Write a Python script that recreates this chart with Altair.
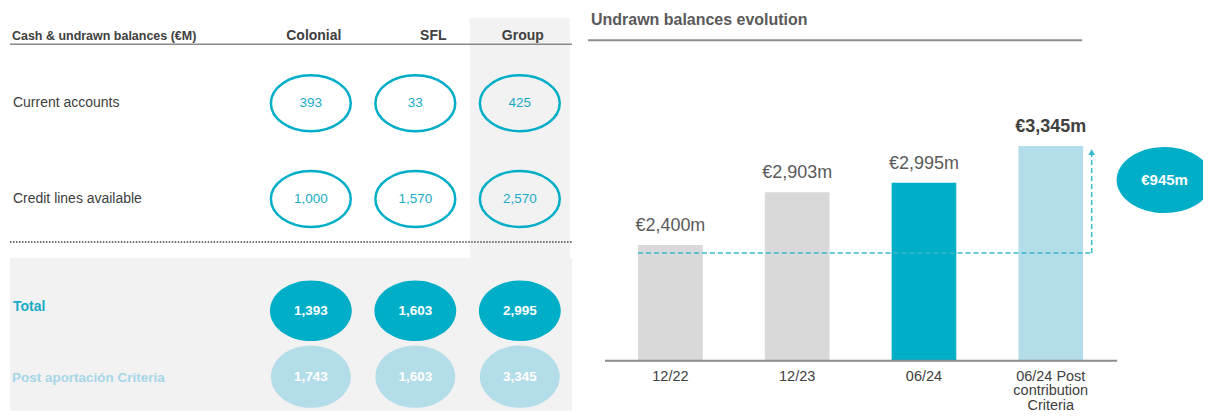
import altair as alt
import pandas as pd

# ---------------- data ----------------
columns = ["Colonial", "SFL", "Group"]
rows_top = ["Current accounts", "Credit lines available"]
rows_bottom = ["Total", "Post aportación Criteria"]
current_accounts = [393, 33, 425]
credit_lines = [1000, 1570, 2570]
totals = [1393, 1603, 2995]
post_criteria = [1743, 1603, 3345]
table_title = "Cash & undrawn balances (€M)"

chart_title = "Undrawn balances evolution"
periods = ["12/22", "12/23", "06/24", "06/24 Post contribution Criteria"]
period_labels = ["12/22", "12/23", "06/24", "06/24 Post|contribution|Criteria"]
undrawn = [2400, 2903, 2995, 3345]
bar_labels = ["€2,400m", "€2,903m", "€2,995m", "€3,345m"]
bar_kind = ["past", "past", "current", "post"]
increase_label = "€945m"
base_value = 2400
post_value = 3345
axis_min = 1293

# ---------------- styles ----------------
TEAL = "#00AEC7"
TEAL_TXT = "#1AABC6"
LIGHT = "#B4DDEA"
LIGHT_TXT = "#A6D6E7"
BAR_GRAY = "#D9D9D9"
BG = "#F2F2F2"
TXT = "#404040"
TXT2 = "#5A5A5A"
FONT = "Liberation Sans"


def ellipse(ratio):
    return f"M-1,0A1,{ratio},0,1,1,1,0A1,{ratio},0,1,1,-1,0Z"


W_LEFT = 565
H_TOP = 250
H_BOT = 153
W_RIGHT = 616
H_RIGHT = H_TOP + H_BOT

one = pd.DataFrame({"k": [0]})

# ---------------- left top section ----------------
x_left_scale = alt.Scale(type="band", domain=columns, range=[251, W_LEFT], paddingInner=0.04, paddingOuter=0.02)
x_left = alt.X("col:N", scale=x_left_scale, axis=None)
y_top = alt.Y("row:N", scale=alt.Scale(type="point", domain=rows_top, range=[47, 239], padding=0.5),
              axis=None)

top_df = pd.DataFrame({
    "row": [r for r in rows_top for _ in columns],
    "col": columns * 2,
    "value": current_accounts + credit_lines,
})
hdr_df = pd.DataFrame({"col": columns})

group_bg = alt.Chart(pd.DataFrame({"col": ["Group"]})).mark_rect(color=BG).encode(
    x=x_left, y=alt.value(10), y2=alt.value(H_TOP))
title_left = alt.Chart(one).mark_text(align="left", baseline="middle", font=FONT, fontSize=12.5,
                                      fontWeight="bold", color=TXT).encode(
    x=alt.value(4), y=alt.value(28), text=alt.value(table_title))
hdr_a = alt.Chart(hdr_df).transform_filter(alt.datum.col != "SFL").mark_text(
    baseline="middle", font=FONT, fontSize=14, fontWeight="bold", color=TXT, dx=3).encode(
    x=x_left, y=alt.value(28), text="col:N")
hdr_b = alt.Chart(hdr_df).transform_filter(alt.datum.col == "SFL").mark_text(
    baseline="middle", font=FONT, fontSize=14, fontWeight="bold", color=TXT, dx=18).encode(
    x=x_left, y=alt.value(28), text="col:N")
hdr_rule = alt.Chart(one).mark_rule(color="#8A8A8A", strokeWidth=1.5).encode(
    x=alt.value(2), x2=alt.value(W_LEFT), y=alt.value(36))
row_txt = alt.Chart(pd.DataFrame({"row": rows_top})).mark_text(
    align="left", baseline="middle", font=FONT, fontSize=14, color=TXT).encode(
    x=alt.value(5), y=y_top, text="row:N")
ell_top = alt.Chart(top_df).mark_point(shape=ellipse(0.7), size=80 * 80, filled=False,
                                       stroke=TEAL, strokeWidth=2.5, opacity=1).encode(
    x=x_left, y=y_top)
val_top = alt.Chart(top_df).mark_text(baseline="middle", font=FONT, fontSize=13.5, color=TEAL_TXT).encode(
    x=x_left, y=y_top, text=alt.Text("value:Q", format=","))
dotted = alt.Chart(one).mark_rule(color=TXT, strokeWidth=1.5, strokeDash=[1.5, 1.5]).encode(
    x=alt.value(2), x2=alt.value(W_LEFT), y=alt.value(234))

left_top = alt.layer(group_bg, title_left, hdr_a, hdr_b, hdr_rule, row_txt, ell_top, val_top,
                     dotted).properties(width=W_LEFT, height=H_TOP)

# ---------------- left bottom section ----------------
y_bot = alt.Y("row:N", scale=alt.Scale(type="point", domain=rows_bottom, range=[20, 152], padding=0.5),
              axis=None)
bot_df = pd.DataFrame({
    "row": [r for r in rows_bottom for _ in columns],
    "col": columns * 2,
    "value": totals + post_criteria,
})
bot_bg = alt.Chart(one).mark_rect(color=BG).encode(
    x=alt.value(2), x2=alt.value(W_LEFT), y=alt.value(0), y2=alt.value(H_BOT))
lbl_total = alt.Chart(pd.DataFrame({"row": [rows_bottom[0]]})).mark_text(
    align="left", baseline="middle", font=FONT, fontWeight="bold", fontSize=14, color=TEAL_TXT, dy=-4).encode(
    x=alt.value(5), y=y_bot, text="row:N")
lbl_post = alt.Chart(pd.DataFrame({"row": [rows_bottom[1]]})).mark_text(
    align="left", baseline="middle", font=FONT, fontWeight="bold", fontSize=13.5, color=LIGHT_TXT, dy=1).encode(
    x=alt.value(4), y=y_bot, text="row:N")
ell_total = alt.Chart(bot_df).transform_filter(alt.datum.row == rows_bottom[0]).mark_point(
    filled=True, size=82 * 82, opacity=1, color=TEAL, shape=ellipse(0.74)).encode(x=x_left, y=y_bot)
ell_post = alt.Chart(bot_df).transform_filter(alt.datum.row == rows_bottom[1]).mark_point(
    filled=True, size=80 * 80, opacity=1, color=LIGHT, shape=ellipse(0.78)).encode(x=x_left, y=y_bot)
val_bot = alt.Chart(bot_df).mark_text(baseline="middle", font=FONT, fontSize=13.5, fontWeight="bold",
                                      color="white").encode(
    x=x_left, y=y_bot, text=alt.Text("value:Q", format=","))

left_bot = alt.layer(bot_bg, lbl_total, lbl_post, ell_total, ell_post, val_bot).properties(
    width=W_LEFT, height=H_BOT)

left = alt.vconcat(left_top, left_bot, spacing=0)

# ---------------- right chart ----------------
x_scale_r = alt.Scale(type="band", domain=periods, range=[19, 527], paddingInner=0.49, paddingOuter=0.245)
y_scale_r = alt.Scale(domain=[axis_min, 4662], range=[353, 0], zero=False, nice=False)


def xr(field="period"):
    return alt.X(f"{field}:N", scale=x_scale_r, axis=None)


def yr(field="value"):
    return alt.Y(f"{field}:Q", scale=y_scale_r, axis=None)


bars_df = pd.DataFrame({"period": periods, "value": undrawn, "label": bar_labels,
                        "kind": bar_kind, "xlabel": period_labels, "base": [axis_min] * len(periods)})
arrow_df = pd.DataFrame({"period": [periods[0]], "period_end": [periods[3]],
                         "value": [base_value], "top": [post_value]})
top_df_r = pd.DataFrame({"period": [periods[3]], "value": [post_value], "label": [increase_label]})
base_df = pd.DataFrame({"base": [axis_min]})

title_r = alt.Chart(one).mark_text(align="left", baseline="middle", font=FONT, fontSize=16,
                                   fontWeight="bold", color=TXT2).encode(
    x=alt.value(3), y=alt.value(12), text=alt.value(chart_title))
title_rule = alt.Chart(one).mark_rule(color="#8C8C8C", strokeWidth=2).encode(
    x=alt.value(0), x2=alt.value(495), y=alt.value(32))
bars = alt.Chart(bars_df).mark_bar().encode(
    x=xr(), y=yr(), y2=alt.Y2("base:Q"),
    color=alt.Color("kind:N", scale=alt.Scale(domain=["past", "current", "post"],
                                              range=[BAR_GRAY, TEAL, LIGHT]), legend=None))
lab_norm = alt.Chart(bars_df).transform_filter(alt.datum.kind != "post").mark_text(
    baseline="bottom", dy=-10, font=FONT, fontSize=18, color=TXT2).encode(
    x=xr(), y=yr(), text="label:N")
lab_bold = alt.Chart(bars_df).transform_filter(alt.datum.kind == "post").mark_text(
    baseline="bottom", dy=-10, font=FONT, fontSize=18, fontWeight="bold", color=TXT).encode(
    x=xr(), y=yr(), text="label:N")
base_rule = alt.Chart(base_df).mark_rule(color="#8C8C8C", strokeWidth=2).encode(
    x=alt.value(17), x2=alt.value(530), y=yr("base"))
xlabels = alt.Chart(bars_df).mark_text(baseline="top", dy=9, font=FONT, fontSize=14.5, color=TXT,
                                       lineBreak="|", lineHeight=14.5).encode(
    x=xr(), y=yr("base"), text="xlabel:N")
dash_h = alt.Chart(arrow_df).mark_rule(color="#39B9CF", strokeWidth=1.5, strokeDash=[5, 3],
                                       yOffset=8, x2Offset=41).encode(
    x=alt.X("period:N", scale=x_scale_r, axis=None, bandPosition=0),
    x2=alt.X2("period_end:N"), y=yr())
dash_v = alt.Chart(arrow_df).mark_rule(color="#39B9CF", strokeWidth=1.5, strokeDash=[5, 3],
                                       xOffset=41, yOffset=8, y2Offset=8).encode(
    x=xr("period_end"), y=yr(), y2=alt.Y2("top:Q"))
arrow_head = alt.Chart(top_df_r).mark_point(shape="triangle-up", size=45, filled=True, color="#39B9CF",
                                            opacity=1, xOffset=41, yOffset=6).encode(
    x=xr(), y=yr())
big_ell = alt.Chart(top_df_r).mark_point(shape=ellipse(0.69), size=96 * 96, filled=True, color=TEAL,
                                         opacity=1, xOffset=114, yOffset=34, clip=True).encode(
    x=xr(), y=yr())
big_txt = alt.Chart(top_df_r).mark_text(baseline="middle", font=FONT, fontSize=15, fontWeight="bold",
                                        color="white", xOffset=114, yOffset=34).encode(
    x=xr(), y=yr(), text="label:N")

right = alt.layer(title_r, title_rule, bars, lab_norm, lab_bold, base_rule, xlabels, dash_h, dash_v,
                  arrow_head, big_ell, big_txt).properties(width=W_RIGHT, height=H_RIGHT)

chart = alt.hconcat(left, right, spacing=14).properties(
    padding={"left": 0, "top": 0, "right": 0, "bottom": 0}
).configure_view(stroke=None)

chart.save("out.html", embed_options={"renderer": "svg", "actions": False})
